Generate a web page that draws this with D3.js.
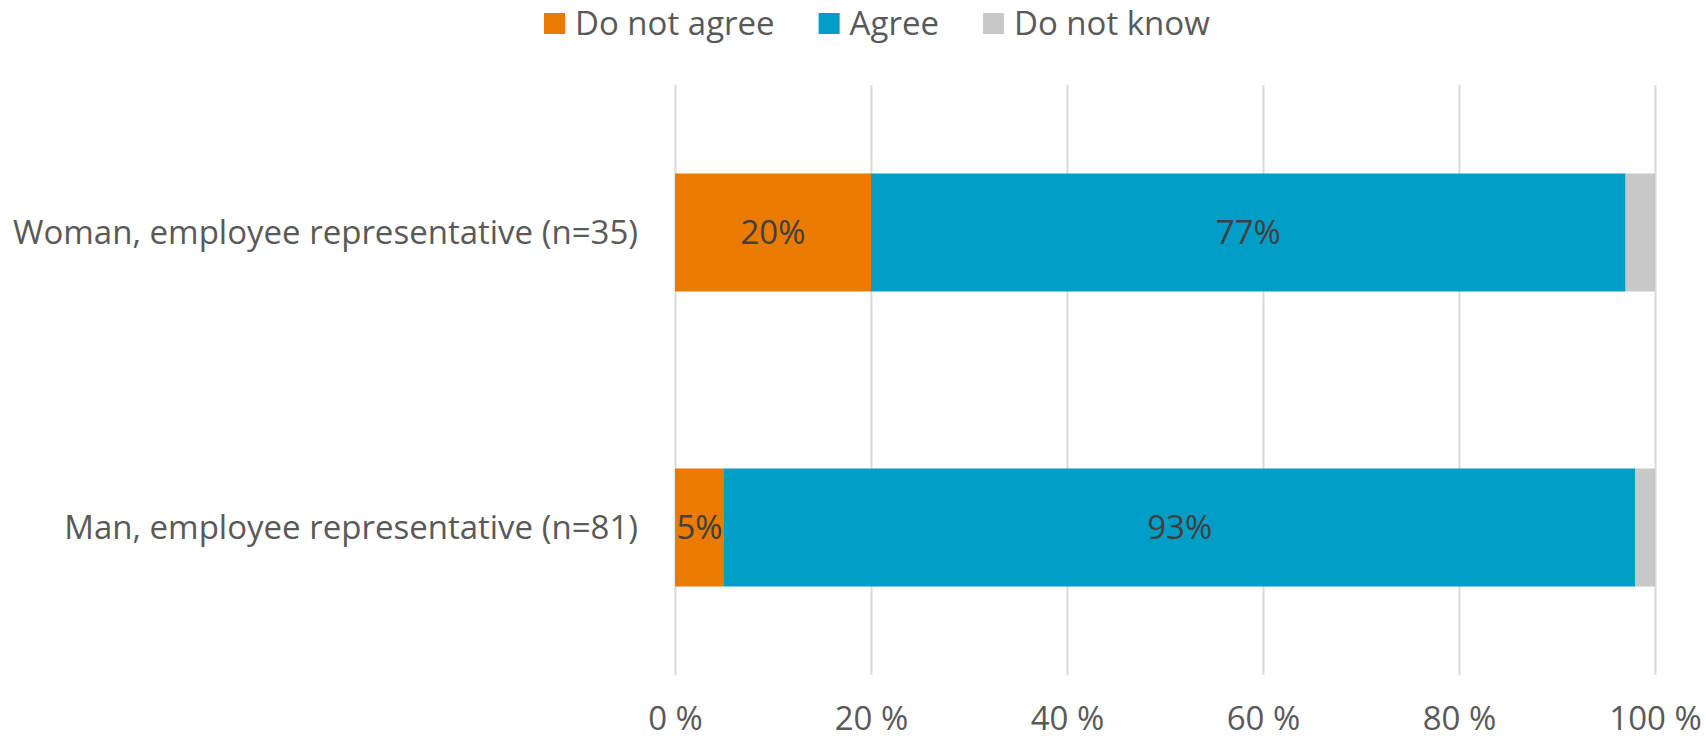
<!DOCTYPE html>
<html>
<head>
<meta charset="utf-8">
<script src="https://cdn.jsdelivr.net/npm/d3@7"></script>
<style>
  body { margin: 0; background: #fff; }
  text { font-family: "Open Sans", sans-serif; }
</style>
</head>
<body>
<script>
  // data
  const categories = ["Woman, employee representative (n=35)", "Man, employee representative (n=81)"];
  const series = ["Do not agree", "Agree", "Do not know"];
  const doNotAgree = [20, 5];
  const agree = [77, 93];
  const doNotKnow = [3, 2];
  const ticks = [0, 20, 40, 60, 80, 100];

  const colors = ["#EA7A00", "#009EC6", "#C8C8C8"];

  const w = 1706;
  const h = 741;
  const margin = { top: 85, right: 51, bottom: 66, left: 675 };
  const fs = "33px";

  const rows = categories.map((c, i) => ({
    cat: c,
    "Do not agree": doNotAgree[i],
    "Agree": agree[i],
    "Do not know": doNotKnow[i]
  }));
  const stacked = d3.stack().keys(series)(rows);

  const xScale = d3.scaleLinear()
    .domain([0, 100])
    .range([margin.left, w - margin.right]);

  const yScale = d3.scaleBand()
    .domain(categories)
    .range([margin.top, h - margin.bottom])
    .paddingInner(0.6)
    .paddingOuter(0.3);

  const svg = d3.select("body")
    .append("svg")
    .attr("width", w)
    .attr("height", h);

  // gridlines + x labels
  const xAxis = d3.axisBottom(xScale)
    .tickValues(ticks)
    .tickSize(-(h - margin.bottom - margin.top))
    .tickFormat(d => d + " %");

  const gx = svg.append("g")
    .attr("transform", "translate(0," + (h - margin.bottom) + ")")
    .call(xAxis);
  gx.select(".domain").remove();
  gx.selectAll(".tick line").attr("stroke", "#D9D9D9").attr("stroke-width", 2);
  gx.selectAll(".tick text")
    .attr("y", 55)
    .attr("dy", 0)
    .attr("fill", "#595959")
    .style("font-size", fs);

  // bars
  svg.selectAll("g.layer")
    .data(stacked)
    .enter()
    .append("g")
    .attr("class", "layer")
    .attr("fill", (d, i) => colors[i])
    .selectAll("rect")
    .data(d => d)
    .enter()
    .append("rect")
    .attr("x", d => xScale(d[0]))
    .attr("y", d => yScale(d.data.cat))
    .attr("width", d => xScale(d[1]) - xScale(d[0]))
    .attr("height", yScale.bandwidth());

  // data labels (first two series only)
  svg.selectAll("g.labels")
    .data(stacked.slice(0, 2))
    .enter()
    .append("g")
    .selectAll("text")
    .data(d => d)
    .enter()
    .append("text")
    .attr("x", d => (xScale(d[0]) + xScale(d[1])) / 2)
    .attr("y", d => yScale(d.data.cat) + yScale.bandwidth() / 2)
    .attr("dy", "0.36em")
    .attr("text-anchor", "middle")
    .attr("fill", "#404040")
    .style("font-size", fs)
    .text(d => (d[1] - d[0]) + "%");

  // category axis
  const yAxis = d3.axisLeft(yScale).tickSize(0).tickPadding(37);
  const gy = svg.append("g")
    .attr("transform", "translate(" + margin.left + ",0)")
    .call(yAxis);
  gy.select(".domain").remove();
  gy.selectAll(".tick text")
    .attr("dy", "0.36em")
    .attr("fill", "#595959")
    .style("font-size", fs);

  // legend
  const legend = svg.append("g").attr("transform", "translate(544,13)");
  let lx = 0;
  series.forEach((s, i) => {
    const item = legend.append("g").attr("transform", "translate(" + lx + ",0)");
    item.append("rect").attr("width", 21).attr("height", 21).attr("fill", colors[i]);
    const t = item.append("text")
      .attr("x", 31)
      .attr("y", 22)
      .attr("fill", "#595959")
      .style("font-size", fs)
      .text(s);
    lx += 31 + t.node().getComputedTextLength() + 44;
  });
</script>
</body>
</html>
